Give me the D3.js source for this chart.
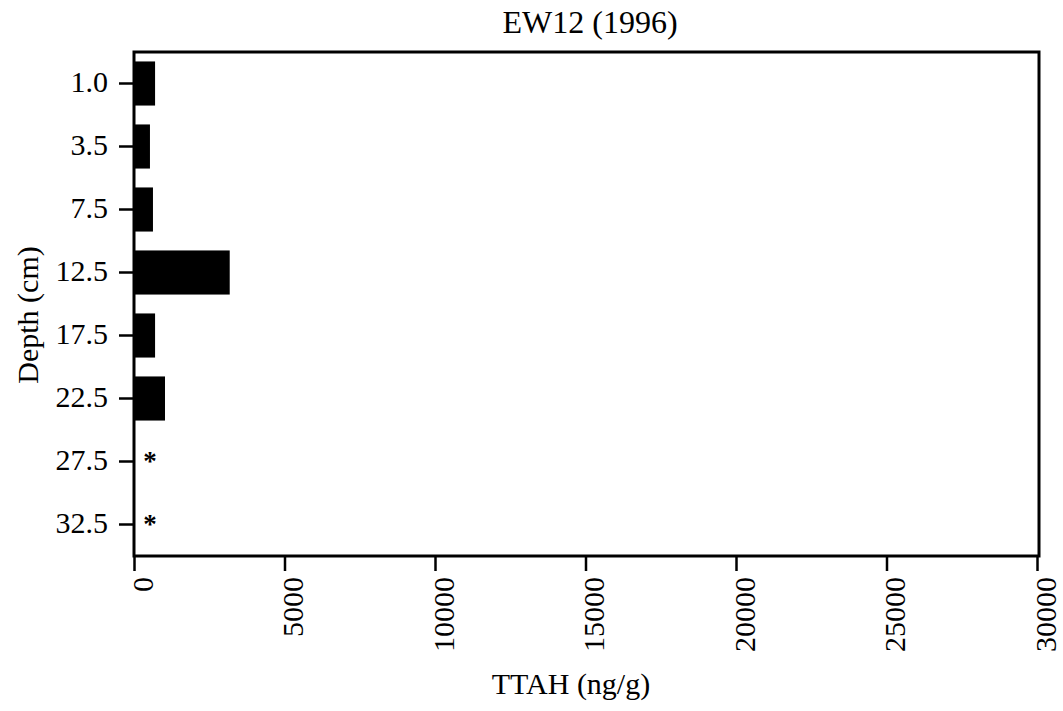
<!DOCTYPE html>
<html>
<head>
<meta charset="utf-8">
<script src="https://cdn.jsdelivr.net/npm/d3@7"></script>
<style>
  html, body { margin: 0; padding: 0; background: #fff; }
  svg text { font-family: "Liberation Serif", "Times New Roman", serif; fill: #000; }
</style>
</head>
<body>
<svg id="chart" width="1063" height="711"></svg>
<script>
// Sediment core EW12, 1996: total aromatic hydrocarbons by depth
const depths = ["1.0", "3.5", "7.5", "12.5", "17.5", "22.5", "27.5", "32.5"];
const ttah = [700, 530, 630, 3180, 700, 1030, null, null];   // null = not analysed (*)
const notAnalysedMark = 530;                                  // where the "*" sits on the x scale
const xTicks = [0, 5000, 10000, 15000, 20000, 25000, 30000];

const svg = d3.select("#chart");
const margin = { top: 52, right: 24, bottom: 155, left: 134 };
const W = 1063, H = 711;
const plotL = margin.left, plotR = W - margin.right;
const plotT = margin.top, plotB = H - margin.bottom;

const x = d3.scaleLinear().domain([0, 30000]).range([plotL, 1037]);
const y = d3.scaleBand().domain(depths).range([plotT, plotB]).paddingInner(0.3).paddingOuter(0.15);

// frame
svg.append("rect")
  .attr("x", plotL).attr("y", plotT)
  .attr("width", plotR - plotL).attr("height", plotB - plotT)
  .attr("fill", "none").attr("stroke", "#000").attr("stroke-width", 3);

// bars
const rows = depths.map((d, i) => ({ depth: d, value: ttah[i] }));
svg.append("g").selectAll("rect")
  .data(rows.filter(r => r.value != null))
  .join("rect")
  .attr("x", x(0))
  .attr("y", r => y(r.depth))
  .attr("width", r => x(r.value) - x(0))
  .attr("height", y.bandwidth())
  .attr("fill", "#000");

// asterisks for samples without data
svg.append("g").selectAll("text")
  .data(rows.filter(r => r.value == null))
  .join("text")
  .attr("x", x(notAnalysedMark))
  .attr("y", r => y(r.depth) + y.bandwidth() / 2 + 8)
  .attr("text-anchor", "middle")
  .attr("font-size", 27)
  .attr("font-weight", "bold")
  .text("*");

// y axis
const yAxis = svg.append("g")
  .attr("transform", `translate(${plotL},0)`)
  .call(d3.axisLeft(y).tickSize(15).tickPadding(11));
yAxis.select(".domain").remove();
yAxis.selectAll(".tick line").attr("stroke", "#000").attr("stroke-width", 2.5);
yAxis.selectAll(".tick text").attr("font-size", 30).attr("dy", "0.27em");

// x axis
const xAxis = svg.append("g")
  .attr("transform", `translate(0,${plotB})`)
  .call(d3.axisBottom(x).tickValues(xTicks).tickFormat(d3.format("d")).tickSize(15).tickPadding(0));
xAxis.select(".domain").remove();
xAxis.selectAll(".tick line").attr("stroke", "#000").attr("stroke-width", 2.5);
xAxis.selectAll(".tick text")
  .attr("font-size", 30)
  .attr("text-anchor", "end")
  .attr("transform", "rotate(-90)")
  .attr("x", -21)
  .attr("y", 0)
  .attr("dy", "0.6em");

// titles
svg.append("text")
  .attr("x", 590).attr("y", 33)
  .attr("text-anchor", "middle")
  .attr("font-size", 32)
  .text("EW12 (1996)");

svg.append("text")
  .attr("x", 571).attr("y", 694)
  .attr("text-anchor", "middle")
  .attr("font-size", 30)
  .text("TTAH (ng/g)");

svg.append("text")
  .attr("transform", "translate(38,315) rotate(-90)")
  .attr("text-anchor", "middle")
  .attr("font-size", 30)
  .text("Depth (cm)");
</script>
</body>
</html>
